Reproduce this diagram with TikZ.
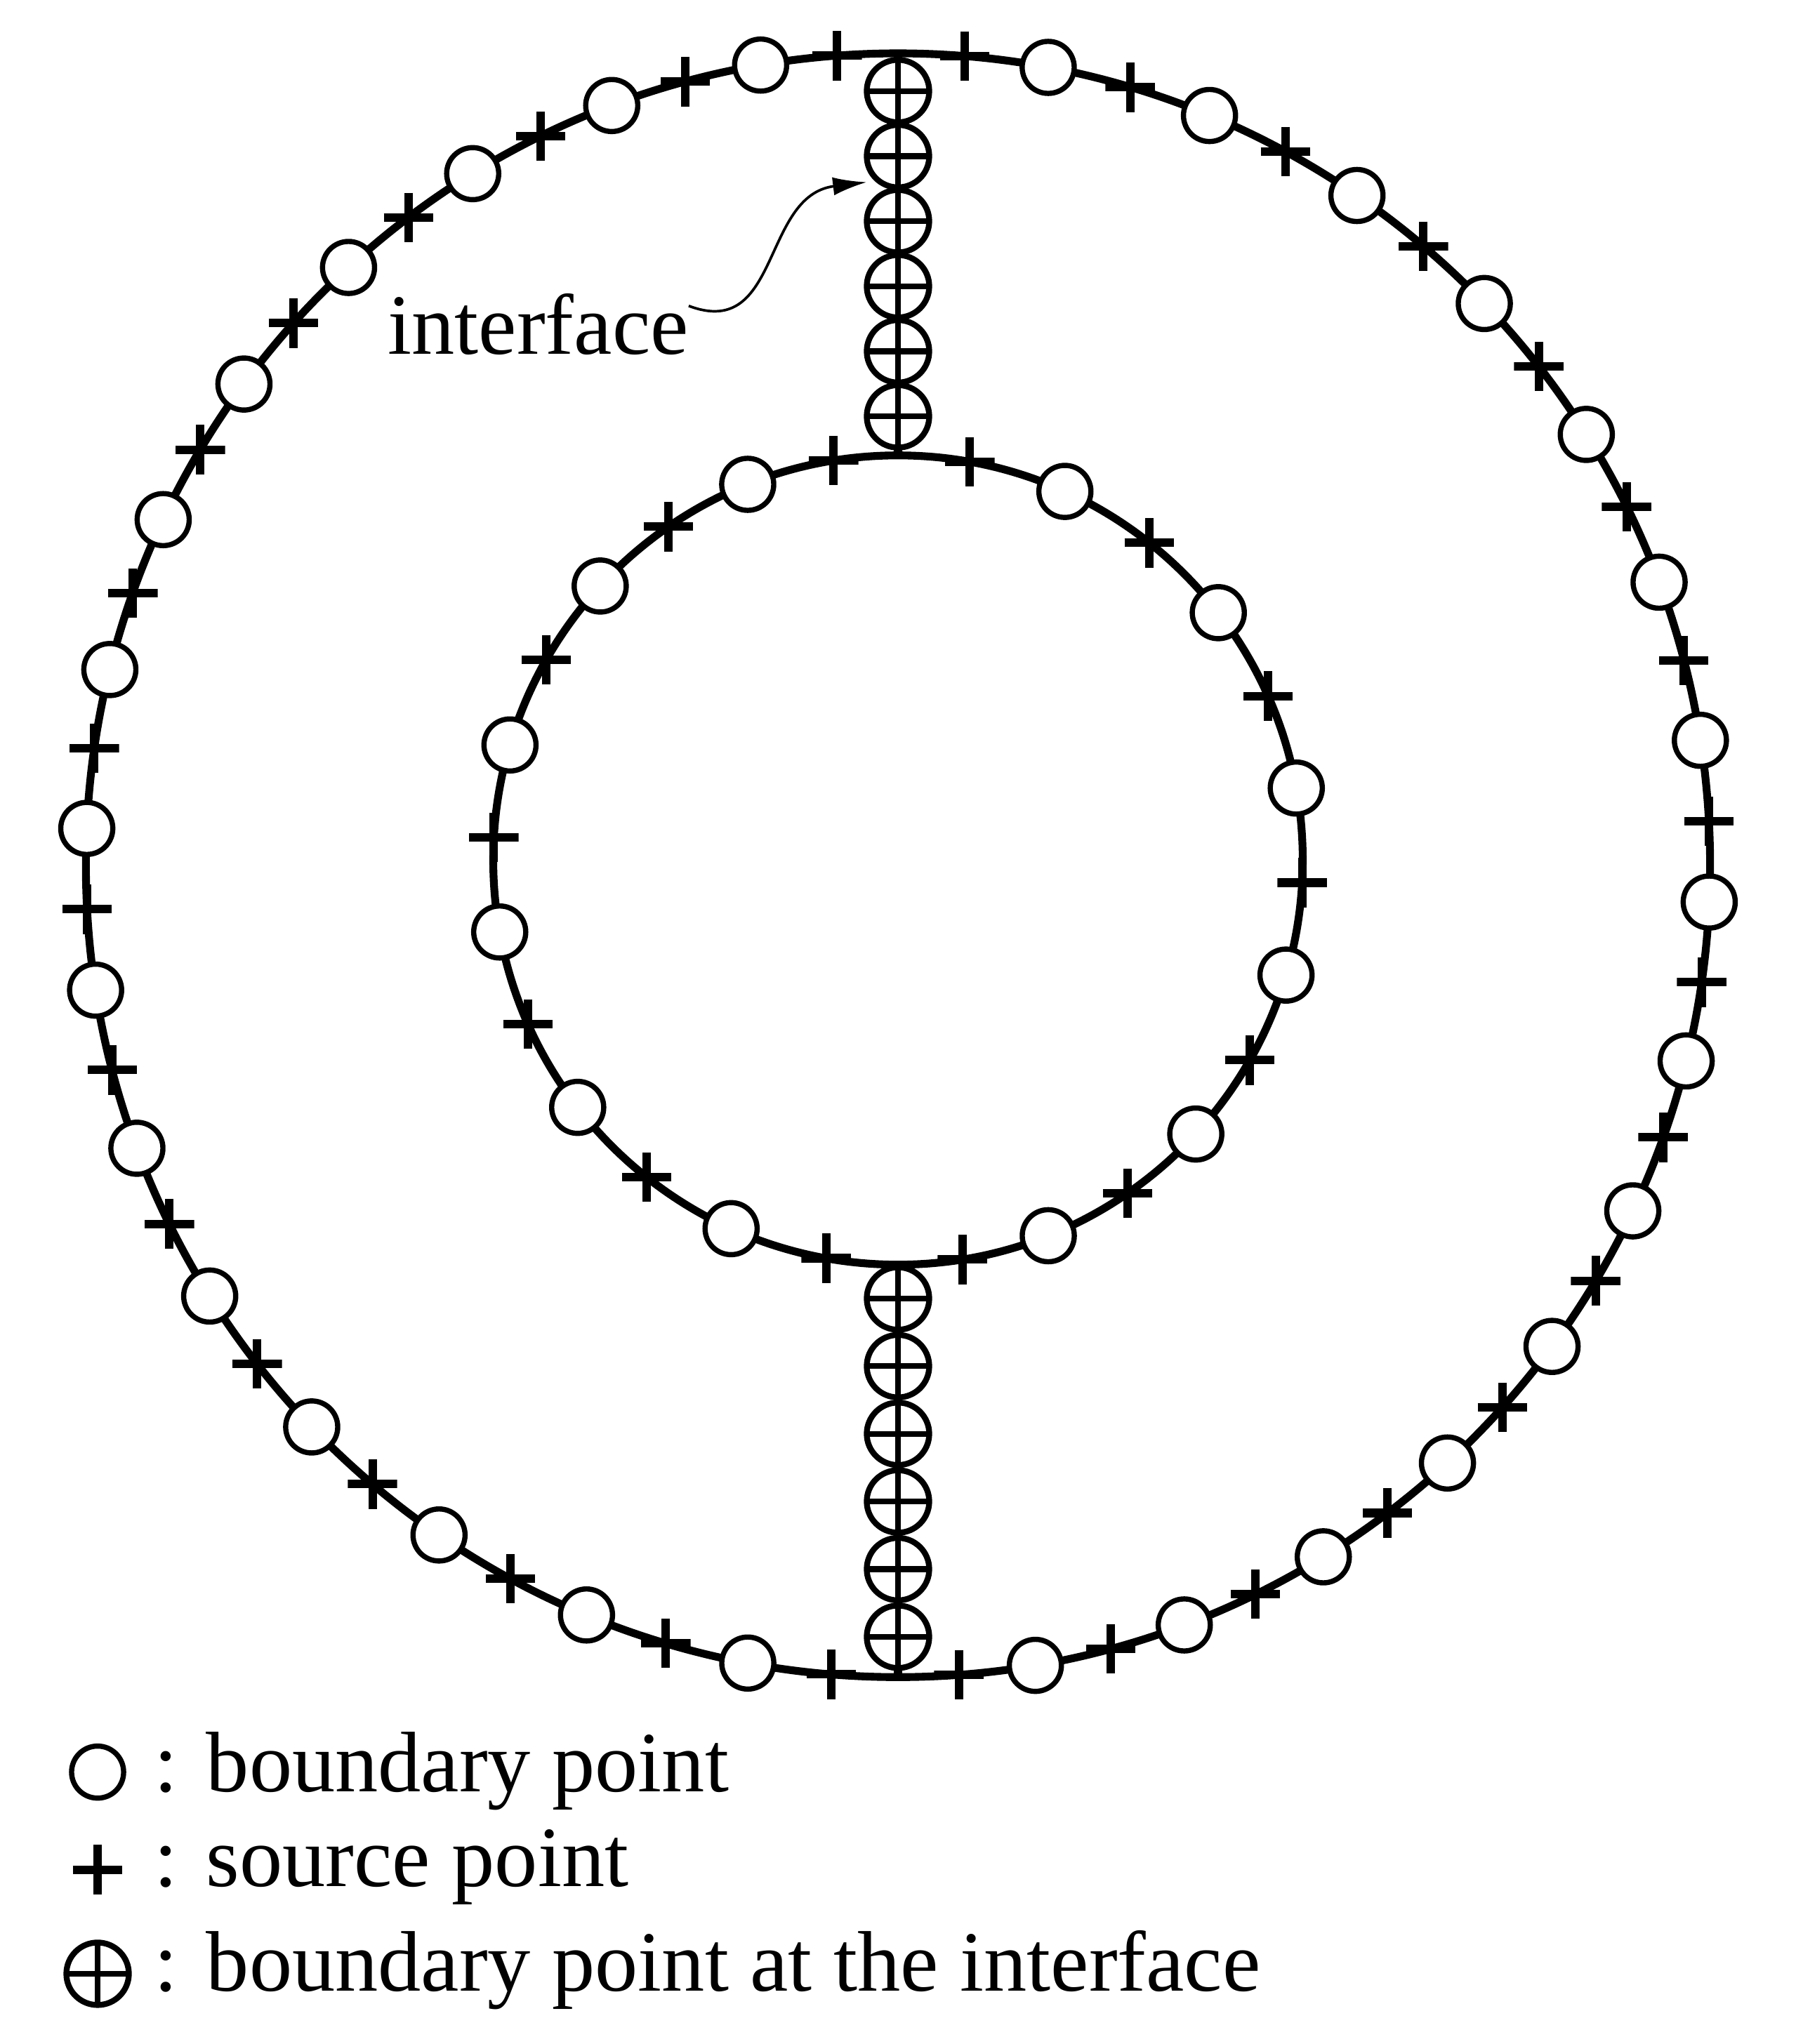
\documentclass[tikz,border=0pt]{standalone}
\usepackage{fontspec}
\setmainfont{Liberation Serif}
\usetikzlibrary{arrows.meta}
\tikzset{
  bpt/.style={circle,draw,line width=4pt,fill=white,minimum size=40pt,inner sep=0pt},
  ipt/.style={circle,draw,line width=4.5pt,fill=white,minimum size=48pt,inner sep=0pt,
    path picture={\draw[line width=4.5pt] (path picture bounding box.north) -- (path picture bounding box.south)
      (path picture bounding box.west) -- (path picture bounding box.east);}},
  spt/.style={inner sep=0pt,minimum size=38pt,
    path picture={\draw[line width=6.5pt] (path picture bounding box.north) -- (path picture bounding box.south)
      (path picture bounding box.west) -- (path picture bounding box.east);}},
  ring/.style={line width=6pt},
  lbl/.style={font=\fontsize{66}{76}\selectfont,inner sep=0pt,anchor=base west}
}
\begin{document}
\begin{tikzpicture}[x=1pt,y=-1pt]
\useasboundingbox (0,0) rectangle (1380,1571);
\draw[ring] (690,665) circle (624);
\draw[ring] (690,661) circle (311);
% interface lines
\draw[ring] (690,41) -- (690,350);
\draw[ring] (690,972) -- (690,1289);
% outer crosses and circles
\foreach \k in {0,...,15}{
  \pgfmathsetmacro\a{85.5-11.4*\k}
  \pgfmathsetmacro\b{\a-2.6*cos(\a)}
  \node[spt] (ocr\k) at ({690+624*cos(\b)},{665-624*sin(\b)}) {};
  \node[spt] (ocl\k) at ({690-624*cos(\b)},{665+624*sin(\b)}) {};
}
\foreach \k in {0,...,14}{
  \pgfmathsetmacro\a{79.8-11.4*\k}
  \pgfmathsetmacro\b{\a-2.6*cos(\a)}
  \node[bpt] (obr\k) at ({690+624*cos(\b)},{665-624*sin(\b)}) {};
  \node[bpt] (obl\k) at ({690-624*cos(\b)},{665+624*sin(\b)}) {};
}
% inner
\foreach \k in {0,...,6}{
  \pgfmathsetmacro\a{80.3-26.77*\k}
  \pgfmathsetmacro\b{\a-3.2*cos(\a)}
  \node[spt] (icr\k) at ({690+311*cos(\b)},{661-311*sin(\b)}) {};
  \node[spt] (icl\k) at ({690-311*cos(\b)},{661+311*sin(\b)}) {};
}
\foreach \k in {0,...,5}{
  \pgfmathsetmacro\a{66.9-26.77*\k}
  \pgfmathsetmacro\b{\a-3.2*cos(\a)}
  \node[bpt] (ibr\k) at ({690+311*cos(\b)},{661-311*sin(\b)}) {};
  \node[bpt] (ibl\k) at ({690-311*cos(\b)},{661+311*sin(\b)}) {};
}
% interface points
\foreach \k in {0,...,5}{
  \node[ipt] (it\k) at (690,{70+50*\k}) {};
  \node[ipt] (ib\k) at (690,{998+52*\k}) {};
}
% label
\node[lbl] (itxt) at (298,272) {interface};
\coordinate (tip) at (666,140);
\draw[line width=2pt,-{Latex[length=26pt,width=14pt]}] (itxt.east) ++(0,-14) coordinate (st)
  .. controls (600,262) and (585,150) .. (tip);
% legend
\node[bpt] (lb) at (75,1362) {};
\node[spt] (ls) at (75,1437) {};
\node[ipt] (li) at (75,1517) {};
\node[lbl] (tb) at (118,1377) {: boundary point};
\node[lbl] (ts) at (118,1450) {: source point};
\node[lbl] (ti) at (118,1530) {: boundary point at the interface};
\end{tikzpicture}
\end{document}
